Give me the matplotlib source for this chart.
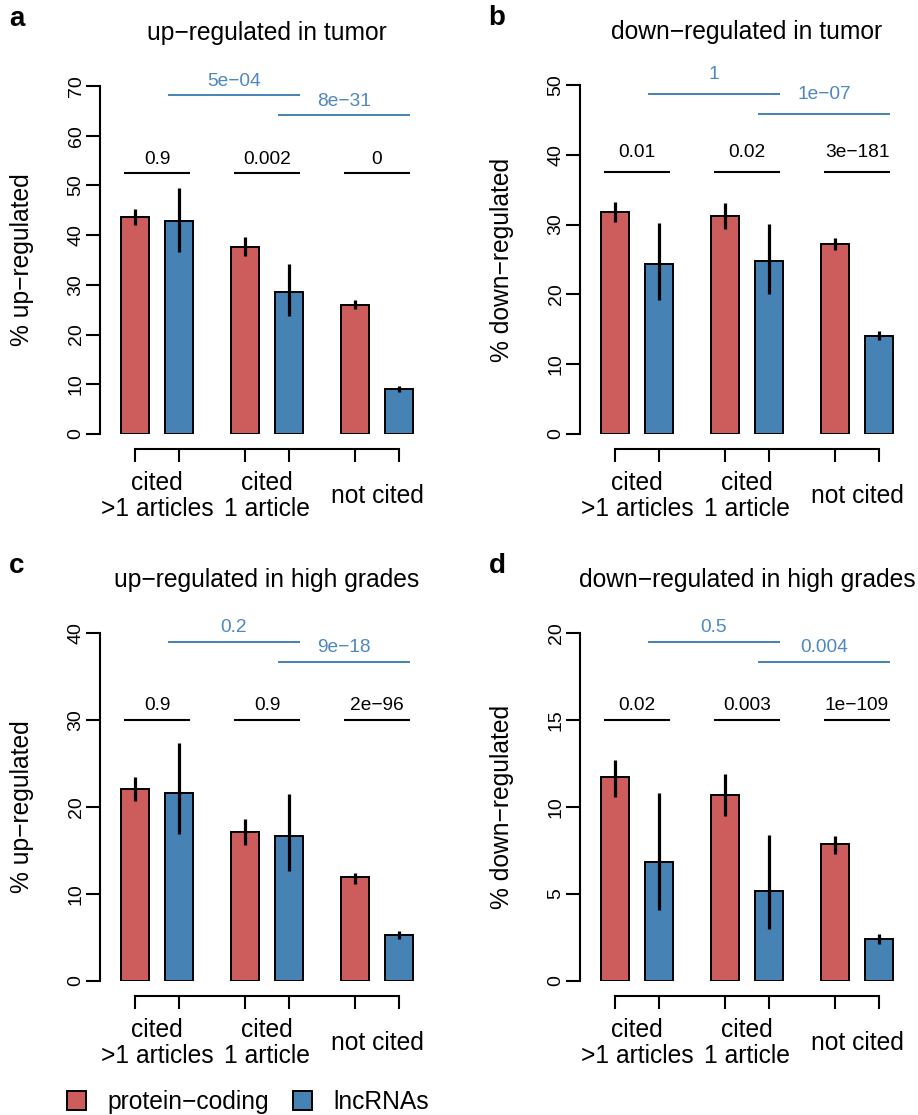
import numpy as np
import matplotlib
matplotlib.use("Agg")
import matplotlib.pyplot as plt
from matplotlib.patches import Patch

plt.rcParams['font.family'] = ['Liberation Sans', 'DejaVu Sans']

MINUS = "\u2212"

# ---- data -------------------------------------------------------------
categories = ["cited\n>1 articles", "cited\n1 article", "not cited"]
series_names = ["protein" + MINUS + "coding", "lncRNAs"]
panel_letters = ["a", "b", "c", "d"]
titles = ["up" + MINUS + "regulated in tumor",
          "down" + MINUS + "regulated in tumor",
          "up" + MINUS + "regulated in high grades",
          "down" + MINUS + "regulated in high grades"]
ylabels = ["% up" + MINUS + "regulated", "% down" + MINUS + "regulated",
           "% up" + MINUS + "regulated", "% down" + MINUS + "regulated"]
ymax = [70, 50, 40, 20]
ystep = [10, 10, 10, 5]

# protein-coding: value, lower, upper
pc_a = [43.6, 37.7, 26.0]; pc_a_lo = [42.0, 35.8, 25.1]; pc_a_hi = [45.3, 39.6, 27.0]
pc_b = [31.8, 31.2, 27.2]; pc_b_lo = [30.4, 29.4, 26.3]; pc_b_hi = [33.3, 33.1, 28.1]
pc_c = [22.1, 17.1, 11.9]; pc_c_lo = [20.7, 15.6, 11.2]; pc_c_hi = [23.4, 18.6, 12.4]
pc_d = [11.7, 10.7, 7.85]; pc_d_lo = [10.6, 9.5, 7.3]; pc_d_hi = [12.7, 11.9, 8.35]

# lncRNAs: value, lower, upper
lnc_a = [42.9, 28.6, 9.1]; lnc_a_lo = [36.7, 23.7, 8.5]; lnc_a_hi = [49.4, 34.1, 9.7]
lnc_b = [24.3, 24.8, 14.1]; lnc_b_lo = [19.2, 20.0, 13.4]; lnc_b_hi = [30.2, 30.1, 14.7]
lnc_c = [21.6, 16.7, 5.3]; lnc_c_lo = [16.9, 12.7, 4.8]; lnc_c_hi = [27.3, 21.5, 5.7]
lnc_d = [6.85, 5.15, 2.42]; lnc_d_lo = [4.1, 3.0, 2.15]; lnc_d_hi = [10.8, 8.4, 2.7]

# p-values: protein-coding vs lncRNA within each class
p_within_a = ["0.9", "0.002", "0"]
p_within_b = ["0.01", "0.02", "3e" + MINUS + "181"]
p_within_c = ["0.9", "0.9", "2e" + MINUS + "96"]
p_within_d = ["0.02", "0.003", "1e" + MINUS + "109"]
# p-values: lncRNA class vs next class
p_lnc_a = ["5e" + MINUS + "04", "8e" + MINUS + "31"]
p_lnc_b = ["1", "1e" + MINUS + "07"]
p_lnc_c = ["0.2", "9e" + MINUS + "18"]
p_lnc_d = ["0.5", "0.004"]

panels = [
    (pc_a, pc_a_lo, pc_a_hi, lnc_a, lnc_a_lo, lnc_a_hi, p_within_a, p_lnc_a),
    (pc_b, pc_b_lo, pc_b_hi, lnc_b, lnc_b_lo, lnc_b_hi, p_within_b, p_lnc_b),
    (pc_c, pc_c_lo, pc_c_hi, lnc_c, lnc_c_lo, lnc_c_hi, p_within_c, p_lnc_c),
    (pc_d, pc_d_lo, pc_d_hi, lnc_d, lnc_d_lo, lnc_d_hi, p_within_d, p_lnc_d),
]

# ---- style ------------------------------------------------------------
RED = "#CD5C5C"
BLUE = "#4682B4"
BLUE_TXT = "#4F87C0"
W, H = 918, 1115
FS = 17.7
FS_SMALL = 13.8

fig = plt.figure(figsize=(W / 100, H / 100), dpi=100)

# axes boxes in pixels: left, top, right, bottom
boxes = [(100, 86, 434, 434), (580, 85, 914, 434),
         (100, 633, 434, 981), (580, 633, 914, 981)]
text_gap_px = [13.5, 19.5, 14.5, 14.5]

bar_w = 1.0
inner = 1.571
outer = 3.929
group_x = np.arange(3) * outer
x_pc = group_x
x_lnc = group_x + inner
centers = group_x + inner / 2


def px2pt(v):
    return v * 72 / 100


for i, (l, t, r, b) in enumerate(boxes):
    pc, pc_lo, pc_hi, lnc, lnc_lo, lnc_hi, p_in, p_ln = panels[i]
    ax = fig.add_axes([l / W, 1 - b / H, (r - l) / W, (b - t) / H])
    ax.set_xlim(-1.25, -1.25 + (r - l) / 28.0)
    ax.set_ylim(0, ymax[i])

    ax.bar(x_pc, pc, width=bar_w, color=RED, edgecolor="black", linewidth=1.4, zorder=2)
    ax.bar(x_lnc, lnc, width=bar_w, color=BLUE, edgecolor="black", linewidth=1.4, zorder=2)
    ax.vlines(x_pc, pc_lo, pc_hi, color="black", linewidth=2.3, zorder=3)
    ax.vlines(x_lnc, lnc_lo, lnc_hi, color="black", linewidth=2.3, zorder=3)

    # within-class comparison brackets
    y_in = 0.75 * ymax[i]
    for k in range(3):
        ax.plot([x_pc[k] - 0.4, x_lnc[k] + 0.4], [y_in, y_in], color="black",
                linewidth=1.5, clip_on=False, solid_capstyle="butt")
        ax.annotate(p_in[k], xy=(centers[k], y_in), xytext=(0, px2pt(text_gap_px[i])),
                    textcoords="offset points", ha="center", va="center",
                    fontsize=FS_SMALL, annotation_clip=False)
    # lncRNA between-class brackets
    for k, frac in enumerate([0.975, 0.917]):
        y_b = frac * ymax[i]
        x0, x1 = x_lnc[k] - 0.4, x_lnc[k + 1] + 0.4
        ax.plot([x0, x1], [y_b, y_b], color=BLUE, linewidth=1.4, clip_on=False,
                solid_capstyle="butt")
        ax.annotate(p_ln[k], xy=((x0 + x1) / 2, y_b), xytext=(0, px2pt(text_gap_px[i])),
                    textcoords="offset points", ha="center", va="center",
                    fontsize=FS_SMALL, color=BLUE_TXT, annotation_clip=False)

    # axes styling
    for s in ["top", "right"]:
        ax.spines[s].set_visible(False)
    ax.spines["left"].set_bounds(0, ymax[i])
    ax.spines["left"].set_linewidth(1.5)
    ax.spines["bottom"].set_position(("outward", px2pt(15)))
    ax.spines["bottom"].set_bounds(x_pc[0], x_lnc[-1])
    ax.spines["bottom"].set_linewidth(1.5)

    ax.set_yticks(np.arange(0, ymax[i] + 1, ystep[i]))
    ax.tick_params(axis="y", length=px2pt(14), width=1.5, labelsize=14,
                   pad=px2pt(10), labelrotation=90)
    for lab in ax.get_yticklabels():
        lab.set_ha("center")
        lab.set_va("center")
    xt = np.sort(np.concatenate([x_pc, x_lnc]))
    ax.set_xticks(xt)
    ax.set_xticklabels([])
    ax.tick_params(axis="x", length=px2pt(13), width=1.5)

    # category labels below the axis
    for k, cat in enumerate(categories):
        lines = cat.split("\n")
        if len(lines) == 2:
            offs = [-49, -75]
        else:
            offs = [-62]
        for ln, off in zip(lines, offs):
            ax.annotate(ln, xy=(centers[k], 0), xytext=(0, px2pt(off)),
                        textcoords="offset points", ha="center", va="center",
                        fontsize=FS, annotation_clip=False)

    # y label, 78 px left of the y axis
    ax.text(-78 / (r - l), 0.5, ylabels[i], transform=ax.transAxes,
            rotation=90, ha="center", va="center", fontsize=FS)

    # title and panel letter
    title_y = t - 53
    fig.text(((l + r) / 2) / W, 1 - title_y / H, titles[i], ha="center",
             va="center", fontsize=FS)
    fig.text((l - 83) / W, 1 - (t - 67) / H, panel_letters[i], ha="center",
             va="center", fontsize=20, fontweight="bold")

handles = [Patch(facecolor=RED, edgecolor="black", linewidth=1.4),
           Patch(facecolor=BLUE, edgecolor="black", linewidth=1.4)]
fig.legend(handles, series_names, loc="center left",
           bbox_to_anchor=(67 / W, 1 - 1102 / H), frameon=False, ncol=2,
           fontsize=FS, handlelength=0.78, handleheight=0.78,
           handletextpad=0.85, columnspacing=1.0, borderpad=0, borderaxespad=0)

fig.savefig("out.png", dpi=100)
